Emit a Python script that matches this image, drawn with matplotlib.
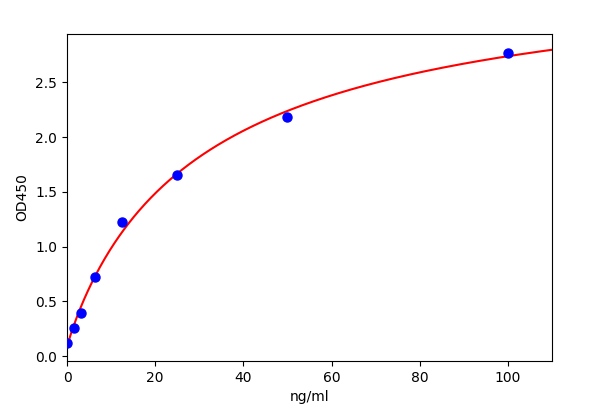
import numpy as np
import matplotlib
matplotlib.use("Agg")
import matplotlib.pyplot as plt

conc = [0, 1.56, 3.125, 6.25, 12.5, 25, 50, 100]
od = [0.12, 0.26, 0.39, 0.72, 1.22, 1.65, 2.18, 2.77]

xticks = [0, 20, 40, 60, 80, 100]
yticks = [0.0, 0.5, 1.0, 1.5, 2.0, 2.5]

# four-parameter logistic fit (grid over b, c; linear solve for a, d)
x = np.asarray(conc, float)
y = np.asarray(od, float)
best = None
for b in np.linspace(0.5, 2.0, 151):
    for c in np.linspace(5, 200, 391):
        f = (x / c) ** b / (1 + (x / c) ** b)
        A = np.column_stack([1 - f, f])
        coef, *_ = np.linalg.lstsq(A, y, rcond=None)
        r = np.sum((A @ coef - y) ** 2)
        if best is None or r < best[0]:
            best = (r, b, c, coef)
_, b_fit, c_fit, (a_fit, d_fit) = best
print(best)

def curve(xx):
    f = (xx / c_fit) ** b_fit / (1 + (xx / c_fit) ** b_fit)
    return a_fit * (1 - f) + d_fit * f

fig = plt.figure(figsize=(6.0, 4.15), dpi=100)
ax = fig.add_axes([0.1117, 0.130, 0.8083, 0.788])

xs = np.linspace(0, 110, 400)
ax.plot(xs, curve(xs), color="red", lw=1.5, zorder=2)
ax.plot(conc, od, "o", color="blue", ms=6.5, zorder=3)

ax.set_xlim(0, 110)
ax.set_ylim(-0.045, 2.94)
ax.set_xticks(xticks)
ax.set_yticks(yticks)
ax.set_xticklabels([str(t) for t in xticks])
ax.set_yticklabels([f"{t:.1f}" for t in yticks])
ax.tick_params(labelsize=10)
ax.set_xlabel("ng/ml", fontsize=10)
ax.set_ylabel("OD450", fontsize=10)

fig.savefig("out.png", dpi=100)
